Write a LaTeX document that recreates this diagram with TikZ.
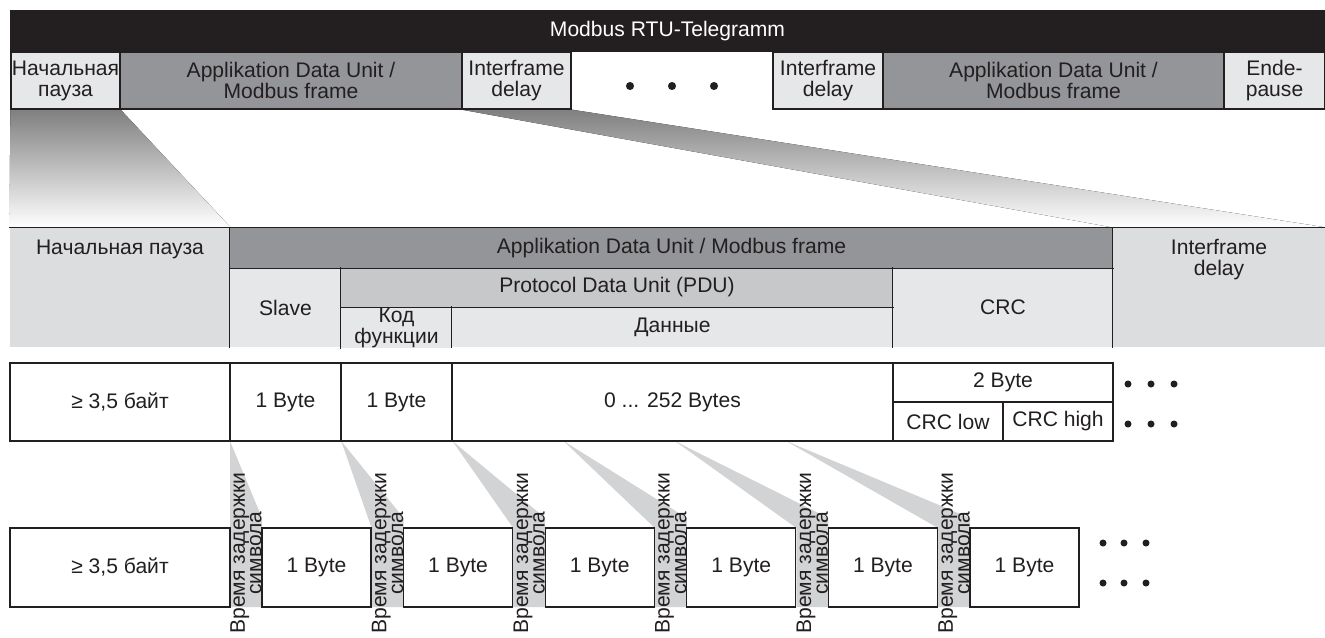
\documentclass[tikz,border=0pt]{standalone}
\usepackage{fontspec}
\setmainfont{Liberation Sans}
\usetikzlibrary{positioning,backgrounds}
\definecolor{ink}{HTML}{231F20}
\definecolor{dark}{HTML}{939598}
\definecolor{mid}{HTML}{C7C8CA}
\definecolor{pale}{HTML}{E6E7E8}
\definecolor{shade}{HTML}{DCDDDE}
\definecolor{wedge}{HTML}{D1D3D4}
\newcommand\cellat[7][]{\node[box,#1,minimum width={((#5)-(#3))*0.02cm},minimum height={((#6)-(#4))*0.02cm}] (#2) at ({((#3)+(#5))/2},{((#4)+(#6))/2}) {#7};}

\begin{document}
\begin{tikzpicture}[x=0.02cm, y=-0.02cm,
          box/.style={draw=ink, line width=0.7pt, inner sep=0pt, align=center, text=ink, font=\fontsize{12}{12}\selectfont},
          flat/.style={draw=none},
          tight/.style={font=\fontsize{12}{9.5}\selectfont},
          txt/.style={inner sep=0pt, align=center, text=ink, font=\fontsize{12}{12.5}\selectfont},
          seam/.style={draw=ink, line width=0.7pt}]
          \useasboundingbox (0,0) rectangle (1325,637);
          \cellat[fill=ink,text=white,draw=none]{bar}{10}{10}{1325}{52}{Modbus RTU-Telegramm}
          \cellat[fill=pale]{pauseA}{11}{52}{120}{109}{Начальная\\пауза}
          \cellat[fill=dark]{aduA}{120}{52}{462}{109}{Applikation Data Unit /\\Modbus frame}
          \cellat[fill=pale]{ifdA}{462}{52}{571}{109}{Interframe\\delay}
          \cellat[fill=pale]{ifdB}{773}{52}{883}{109}{Interframe\\delay}
          \cellat[fill=dark]{aduB}{883}{52}{1224}{109}{Applikation Data Unit /\\Modbus frame}
          \cellat[fill=pale]{ende}{1224}{52}{1325}{109}{Ende-\\pause}
          \foreach \x in {630,672,714} \fill[ink] (\x,86) circle (2.3pt);

          \cellat[flat,fill=shade]{pauseM}{10}{228}{230}{347}{}
          \node[txt,below=0.24cm of pauseM.north] (pauseMt) {Начальная пауза};
          \cellat[flat,fill=dark]{aduM}{230}{228}{1113}{268}{Applikation Data Unit / Modbus frame}
          \cellat[flat,fill=pale]{slave}{230}{268}{341}{347}{Slave}
          \cellat[flat,fill=mid]{pdu}{341}{268}{893}{307}{Protocol Data Unit (PDU)}
          \cellat[flat,fill=pale,tight]{code}{341}{309}{452}{347}{Код\\функции}
          \cellat[flat,fill=pale]{data}{452}{307}{893}{347}{Данные}
          \cellat[flat,fill=pale]{crc}{893}{268}{1113}{347}{CRC}
          \cellat[flat,fill=shade]{ifdM}{1113}{228}{1325}{347}{}
          \node[txt,below=0.22cm of ifdM.north] (ifdMt) {Interframe\\delay};
          \draw[seam] (pauseM.north west) -- (ifdM.north east);
          \draw[seam] (aduM.south west) -- (aduM.south east);
          \draw[seam] (pdu.south west) -- (pdu.south east);
          \draw[seam] (aduM.north west) -- (slave.south west);
          \draw[seam] (pdu.north west) -- (code.south west);
          \draw[seam] (data.north west) -- (data.south west);
          \draw[seam] (crc.north west) -- (crc.south west);
          \draw[seam] (ifdM.north west) -- (ifdM.south west);

          \cellat{pauseB}{10}{363}{230}{441}{≥ 3,5 байт}
          \cellat{slaveB}{230}{363}{341}{441}{1 Byte}
          \cellat{codeB}{341}{363}{452}{441}{1 Byte}
          \cellat{dataB}{452}{363}{893}{441}{0 ... 252 Bytes}
          \cellat{crcB}{893}{363}{1113}{402}{2 Byte}
          \cellat{lowB}{893}{402}{1003}{441}{CRC low}
          \cellat{highB}{1003}{402}{1113}{441}{CRC high}
          \foreach \y in {384,424}
            \foreach \x in {1128,1151,1174} \fill[ink] (\x,\y) circle (2pt);

          \cellat{pauseC}{10}{528}{230}{607}{≥ 3,5 байт}
          \foreach \i [evaluate=\i as \xa using 262+141.6*\i,
                       evaluate=\i as \ga using 230+141.6*\i,
                       evaluate=\i as \sa using 230+111.2*\i] in {0,...,5} {
            \cellat{B\i}{\xa}{528}{\xa+109}{607}{1 Byte}
            \begin{scope}[on background layer]
              \fill[wedge] (\sa,441) -- (\ga+32,518) -- (\ga+32,607) -- (\ga,607) -- (\ga,528) -- cycle;
            \end{scope}
            \node[txt,tight,rotate=90] (D\i) at (\ga+16,553) {Время задержки\\символа};
          }
          \foreach \y in {543,583}
            \foreach \x in {1103,1124,1146} \fill[ink] (\x,\y) circle (2pt);

          \begin{scope}[on background layer]
            \fill[shade] (pauseA.south west) -- (pauseA.south east) -- (pauseM.north east) -- (pauseM.north west) -- cycle;
            \fill[shade] (ifdA.south west) -- (ifdA.south east) -- (ifdM.north east) -- (ifdM.north west) -- cycle;
          \end{scope}
        \end{tikzpicture}
\end{document}
